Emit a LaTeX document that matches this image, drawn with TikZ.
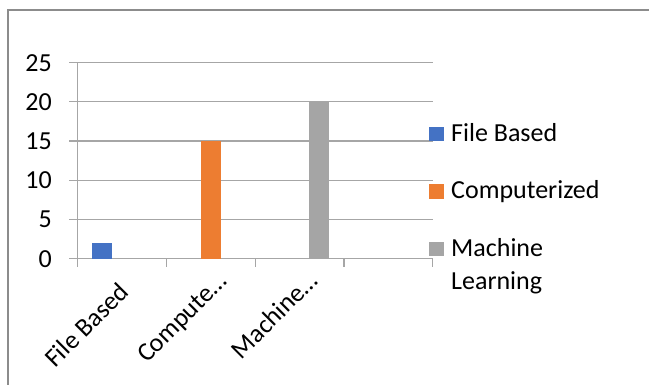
\documentclass[tikz,border=0pt]{standalone}
\usepackage{fontspec}
\setmainfont{Carlito}
\usepackage{tikz}

\definecolor{fbblue}{HTML}{4472C4}
\definecolor{comporange}{HTML}{ED7D31}
\definecolor{mlgray}{HTML}{A5A5A5}
\definecolor{gridgray}{HTML}{A6A6A6}
\definecolor{framegray}{HTML}{8C8C8C}

\begin{document}
\begin{tikzpicture}[x=1pt,y=-1pt,
  gridline/.style={draw=gridgray,line width=1.2pt},
  lab/.style={font=\fontsize{26}{33.3}\selectfont,inner sep=0pt},
  key/.style={inner sep=0pt,minimum size=14.7pt}]
  \useasboundingbox (0,0) rectangle (649,385);

  % chart frame
  \draw[framegray,line width=1.3pt] (8,386) -- (8,10) -- (650,10);

  % gridlines and value labels
  \foreach \v in {0,5,...,25} {
    \draw[gridline] (69,258.7-7.84*\v) -- (432.7,258.7-7.84*\v);
    \node[lab,anchor=east] (val\v) at (52,258.7-7.84*\v) {\v};
  }
  \draw[gridline] (77.7,62.7) -- (77.7,266.7);
  \foreach \i in {1,...,4}
    \draw[gridline] (77.7+88.75*\i,258.7) -- (77.7+88.75*\i,266.7);

  % bars
  \fill[fbblue] (92,258.7) rectangle (112,243);
  \fill[comporange] (201,258.7) rectangle (221,141.1);
  \fill[mlgray] (309,258.7) rectangle (329,101.9);

  % category labels
  \node[lab,rotate=45,anchor=east] (catfile) at (124,287) {File Based};
  \node[lab,rotate=45,anchor=east] (catcomp) at (224,278) {Compute…};
  \node[lab,rotate=45,anchor=east] (catml) at (313,276) {Machine…};

  % legend
  \node[key,fill=fbblue] (keyfile) at (436.3,134) {};
  \node[key,fill=comporange] (keycomp) at (436.3,191.5) {};
  \node[key,fill=mlgray] (keyml) at (436.3,249) {};
  \node[lab,anchor=base west] (txtfile) at (451,141.7) {File Based};
  \node[lab,anchor=base west] (txtcomp) at (451,199) {Computerized};
  \node[lab,anchor=base west,align=left] (txtml) at (451,290) {Machine\\Learning};
\end{tikzpicture}
\end{document}
